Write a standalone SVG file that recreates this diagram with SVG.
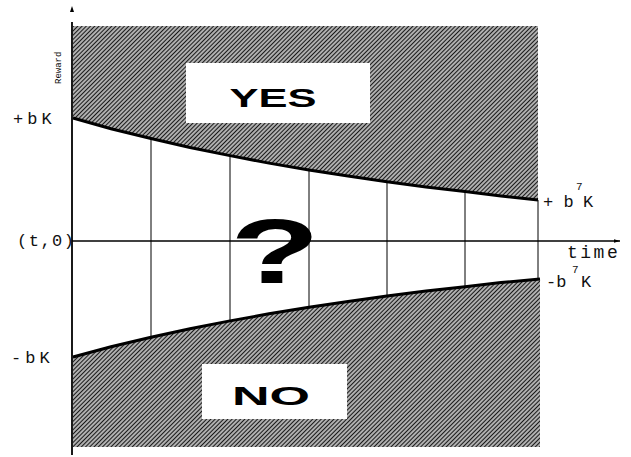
<svg xmlns="http://www.w3.org/2000/svg" width="631" height="457" viewBox="0 0 631 457">
<defs>
<pattern id="hatch" patternUnits="userSpaceOnUse" width="3" height="3" patternTransform="rotate(-45)">
<rect width="3" height="3" fill="#ffffff"/>
<line x1="0" y1="1.5" x2="3" y2="1.5" stroke="#1a1a1a" stroke-width="1.7"/>
</pattern>
<marker id="arr" viewBox="0 0 10 10" refX="10" refY="5" markerWidth="6" markerHeight="6" orient="auto" markerUnits="userSpaceOnUse">
<path d="M0,2 L10,5 L0,8 Z" fill="#000"/>
</marker>
</defs>
<style>
.lbl{font-family:"Liberation Mono","DejaVu Sans Mono",monospace;font-size:17px;fill:#111}
.sup{font-family:"Liberation Mono","DejaVu Sans Mono",monospace;font-size:11px;fill:#111}
.big{font-family:"Liberation Sans",Arial,sans-serif;font-weight:bold;fill:#000}
.grid{stroke:#000;stroke-width:1;fill:none}
.curve{stroke:#000;stroke-width:3;fill:none}
</style>
<rect width="631" height="457" fill="#fff"/>
<g id="yes-region">
<path d="M73,26 H538 V200 L501,196 L465,191.6 L426,186.9 L387,181.7 L348,176.1 L309,169.9 L269,163.1 L230,155.6 L190,147.5 L151,138.5 L111,128.7 L73,118 Z" fill="url(#hatch)"/>
<rect x="186" y="63" width="184" height="60" fill="#fff"/>
<text class="big" x="273" y="107" font-size="26" text-anchor="middle" textLength="87" lengthAdjust="spacingAndGlyphs">YES</text>
</g>
<g id="no-region">
<path d="M73,357 L111,346.7 L151,337.3 L190,328.7 L230,320.9 L269,313.8 L309,307.3 L348,301.4 L387,296.1 L426,291.1 L465,286.7 L501,282.6 L540,278.9 V447 H73 Z" fill="url(#hatch)"/>
<rect x="202" y="364" width="145" height="55" fill="#fff"/>
<text class="big" x="271" y="405" font-size="26" text-anchor="middle" textLength="78" lengthAdjust="spacingAndGlyphs">NO</text>
</g>
<g id="connectors">
<path class="curve" d="M73,118 L111,128.7 L151,138.5 L190,147.5 L230,155.6 L269,163.1 L309,169.9 L348,176.1 L387,181.7 L426,186.9 L465,191.6 L501,196 L538,200"/>
<path class="curve" d="M73,357 L111,346.7 L151,337.3 L190,328.7 L230,320.9 L269,313.8 L309,307.3 L348,301.4 L387,296.1 L426,291.1 L465,286.7 L501,282.6 L540,278.9"/>
<line class="grid" x1="151" y1="138.5" x2="151" y2="337.3"/>
<line class="grid" x1="230" y1="155.6" x2="230" y2="320.9"/>
<line class="grid" x1="309" y1="169.9" x2="309" y2="307.3"/>
<line class="grid" x1="387" y1="181.7" x2="387" y2="296.1"/>
<line class="grid" x1="465" y1="191.6" x2="465" y2="286.7"/>
<line class="grid" x1="538" y1="200" x2="538" y2="279" stroke-width="1.5"/>
<line x1="72" y1="22" x2="72" y2="455" stroke="#000" stroke-width="1.8"/>
<path d="M72,6 L70,12 L74,12 Z" fill="#000"/>
<line x1="72" y1="241" x2="620" y2="241" stroke="#000" stroke-width="1.3" marker-end="url(#arr)"/>
</g>
<g id="question">
<text class="big" x="0" y="0" font-size="91" text-anchor="middle" transform="translate(275,283) scale(1.62,1)">?</text>
</g>
<g id="labels">
<text class="lbl" x="61" y="84" transform="rotate(-90 61 84)" style="font-size:9px">Reward</text>
<text class="lbl" x="13" y="124" letter-spacing="4">+bK</text>
<text class="lbl" x="11" y="363" letter-spacing="4">-bK</text>
<text class="lbl" x="17" y="246" letter-spacing="1.5">(t,0)</text>
<text class="lbl" x="543" y="207">+ b</text>
<text class="sup" x="576" y="190">7</text>
<text class="lbl" x="583" y="207">K</text>
<text class="lbl" x="546" y="287">-b</text>
<text class="sup" x="572" y="273">7</text>
<text class="lbl" x="581" y="287">K</text>
<text class="lbl" x="567" y="258" style="font-size:18px" letter-spacing="2.5">time</text>
</g>
</svg>
